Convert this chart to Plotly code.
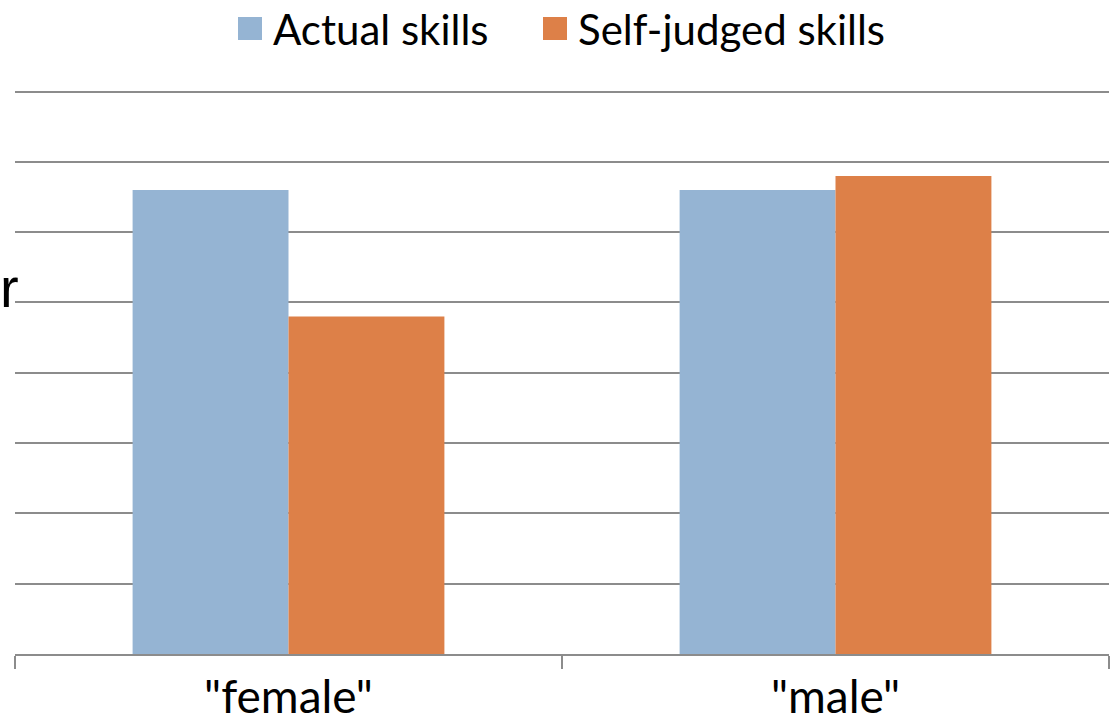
import plotly.graph_objects as go

# Chart data
categories = ['"female"', '"male"']
actual_skills = [6.6, 6.6]
self_judged_skills = [4.8, 6.8]
series_names = ["Actual skills", "Self-judged skills"]

BLUE = "#95B4D3"
ORANGE = "#DD8048"
GRID = "#8C8C8C"
FONT = "Lato, 'Open Sans', sans-serif"

W, H = 1113, 726
M_T, M_B, M_L, M_R = 88, 72, 15, 4
PLOT_H = H - M_T - M_B
PLOT_W = W - M_L - M_R


def paper_x(px):
    """Convert a pixel column to paper x."""
    return (px - M_L) / PLOT_W


def paper_y(px):
    """Convert a pixel row (from the top of the page) to paper y."""
    return (H - M_B - px) / PLOT_H


fig = go.Figure()
fig.add_trace(go.Bar(name=series_names[0], x=categories, y=actual_skills,
                     marker=dict(color=BLUE, line=dict(width=0))))
fig.add_trace(go.Bar(name=series_names[1], x=categories, y=self_judged_skills,
                     marker=dict(color=ORANGE, line=dict(width=0))))

fig.update_layout(
    width=W, height=H,
    margin=dict(l=M_L, r=M_R, t=M_T, b=M_B, autoexpand=False),
    paper_bgcolor="white", plot_bgcolor="white",
    barmode="group", bargap=0.43, bargroupgap=0,
    font=dict(family=FONT, color="black"),
    showlegend=False,
    xaxis=dict(showline=True, linecolor=GRID, linewidth=2, automargin=False,
               ticks="outside", tickson="boundaries", ticklen=13, tickcolor=GRID,
               tickwidth=2, tickfont=dict(size=46, family=FONT), showgrid=False,
               ticklabelstandoff=2),
    yaxis=dict(range=[0, 8.05], tickvals=list(range(0, 9)), showgrid=True,
               gridcolor=GRID, gridwidth=2, showticklabels=False, showline=False,
               zeroline=False, ticks="", automargin=False),
)

# Legend across the top: square swatch followed by the series name
legend_swatch_left = [238, 543]
for name, col, left in zip(series_names, [BLUE, ORANGE], legend_swatch_left):
    fig.add_shape(type="rect", xref="paper", yref="paper",
                  x0=paper_x(left), x1=paper_x(left + 24),
                  y0=paper_y(17), y1=paper_y(40),
                  fillcolor=col, line=dict(width=0), layer="above")
    fig.add_annotation(text=name, xref="paper", yref="paper",
                       x=paper_x(left + 33), y=paper_y(29),
                       xanchor="left", yanchor="middle", showarrow=False,
                       font=dict(size=42, family=FONT, color="black"))

# Tail of the y-axis title at the left edge
fig.add_annotation(text="r", xref="paper", yref="paper", x=paper_x(-2), y=paper_y(287),
                   xanchor="left", yanchor="middle", showarrow=False,
                   font=dict(size=56, family="Liberation Sans, Arial", color="black"))

fig.write_html("out.html")
